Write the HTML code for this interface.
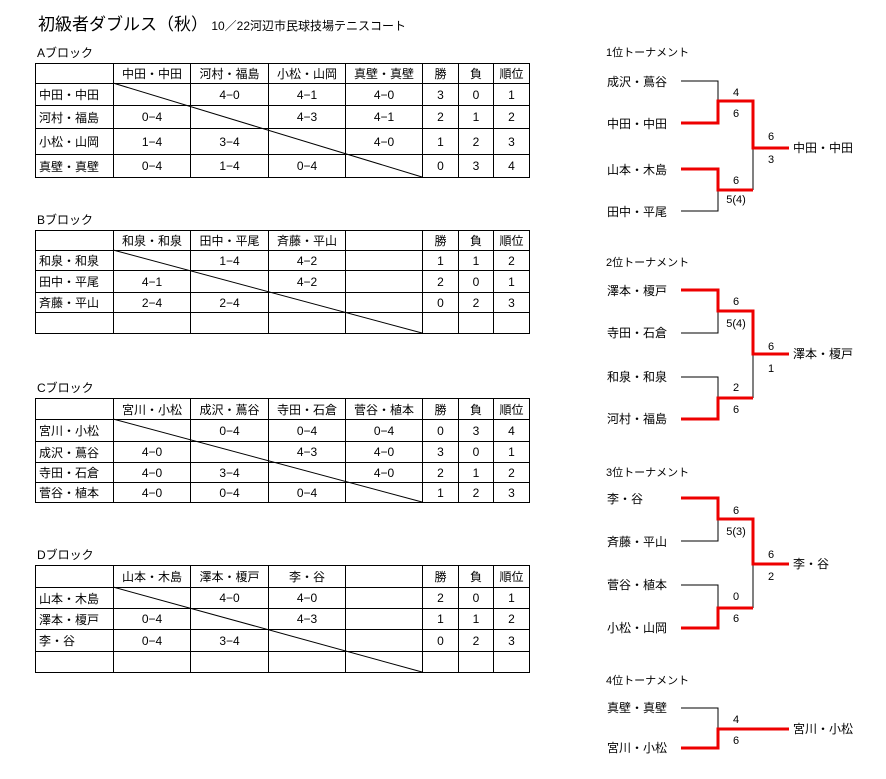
<!DOCTYPE html>
<html><head><meta charset="utf-8"><style>
body{margin:0;background:#fff;width:886px;height:779px;position:relative;overflow:hidden;font-family:"Liberation Sans","Noto Sans CJK JP",sans-serif;font-size:12px;color:#000}
.t{position:absolute;left:35px;border-collapse:collapse;table-layout:fixed}
.t td{border:1px solid #000;padding:0;text-align:center;white-space:nowrap;overflow:hidden}
.t td.l{text-align:left;padding-left:3px}
.lbl{position:absolute;font-size:12px}
svg{position:absolute;left:0;top:0}
</style></head><body>
<div class="lbl" style="left:38px;top:10px;font-size:17px">初級者ダブルス（秋）<span style="font-size:12px">&nbsp;10／22河辺市民球技場テニスコート</span></div>

<div class="lbl" style="left:37px;top:44px">Aブロック</div>
<table class="t" style="top:63px">
<colgroup><col style="width:78px"><col style="width:77px"><col style="width:78px"><col style="width:77px"><col style="width:77px"><col style="width:36px"><col style="width:35px"><col style="width:36px"></colgroup>
<tr style="height:20px"><td></td><td>中田・中田</td><td>河村・福島</td><td>小松・山岡</td><td>真壁・真壁</td><td>勝</td><td>負</td><td>順位</td></tr>
<tr style="height:22px"><td class="l">中田・中田</td><td></td><td>4−0</td><td>4−1</td><td>4−0</td><td>3</td><td>0</td><td>1</td></tr>
<tr style="height:23px"><td class="l">河村・福島</td><td>0−4</td><td></td><td>4−3</td><td>4−1</td><td>2</td><td>1</td><td>2</td></tr>
<tr style="height:26px"><td class="l">小松・山岡</td><td>1−4</td><td>3−4</td><td></td><td>4−0</td><td>1</td><td>2</td><td>3</td></tr>
<tr style="height:23px"><td class="l">真壁・真壁</td><td>0−4</td><td>1−4</td><td>0−4</td><td></td><td>0</td><td>3</td><td>4</td></tr>
</table>

<div class="lbl" style="left:37px;top:211px">Bブロック</div>
<table class="t" style="top:230px">
<colgroup><col style="width:78px"><col style="width:77px"><col style="width:78px"><col style="width:77px"><col style="width:77px"><col style="width:36px"><col style="width:35px"><col style="width:36px"></colgroup>
<tr style="height:20px"><td></td><td>和泉・和泉</td><td>田中・平尾</td><td>斉藤・平山</td><td></td><td>勝</td><td>負</td><td>順位</td></tr>
<tr style="height:20px"><td class="l">和泉・和泉</td><td></td><td>1−4</td><td>4−2</td><td></td><td>1</td><td>1</td><td>2</td></tr>
<tr style="height:22px"><td class="l">田中・平尾</td><td>4−1</td><td></td><td>4−2</td><td></td><td>2</td><td>0</td><td>1</td></tr>
<tr style="height:20px"><td class="l">斉藤・平山</td><td>2−4</td><td>2−4</td><td></td><td></td><td>0</td><td>2</td><td>3</td></tr>
<tr style="height:21px"><td></td><td></td><td></td><td></td><td></td><td></td><td></td><td></td></tr>
</table>

<div class="lbl" style="left:37px;top:379px">Cブロック</div>
<table class="t" style="top:398px">
<colgroup><col style="width:78px"><col style="width:77px"><col style="width:78px"><col style="width:77px"><col style="width:77px"><col style="width:36px"><col style="width:35px"><col style="width:36px"></colgroup>
<tr style="height:21px"><td></td><td>宮川・小松</td><td>成沢・蔦谷</td><td>寺田・石倉</td><td>菅谷・植本</td><td>勝</td><td>負</td><td>順位</td></tr>
<tr style="height:22px"><td class="l">宮川・小松</td><td></td><td>0−4</td><td>0−4</td><td>0−4</td><td>0</td><td>3</td><td>4</td></tr>
<tr style="height:21px"><td class="l">成沢・蔦谷</td><td>4−0</td><td></td><td>4−3</td><td>4−0</td><td>3</td><td>0</td><td>1</td></tr>
<tr style="height:20px"><td class="l">寺田・石倉</td><td>4−0</td><td>3−4</td><td></td><td>4−0</td><td>2</td><td>1</td><td>2</td></tr>
<tr style="height:20px"><td class="l">菅谷・植本</td><td>4−0</td><td>0−4</td><td>0−4</td><td></td><td>1</td><td>2</td><td>3</td></tr>
</table>

<div class="lbl" style="left:37px;top:546px">Dブロック</div>
<table class="t" style="top:565px">
<colgroup><col style="width:78px"><col style="width:77px"><col style="width:78px"><col style="width:77px"><col style="width:77px"><col style="width:36px"><col style="width:35px"><col style="width:36px"></colgroup>
<tr style="height:22px"><td></td><td>山本・木島</td><td>澤本・榎戸</td><td>李・谷</td><td></td><td>勝</td><td>負</td><td>順位</td></tr>
<tr style="height:21px"><td class="l">山本・木島</td><td></td><td>4−0</td><td>4−0</td><td></td><td>2</td><td>0</td><td>1</td></tr>
<tr style="height:21px"><td class="l">澤本・榎戸</td><td>0−4</td><td></td><td>4−3</td><td></td><td>1</td><td>1</td><td>2</td></tr>
<tr style="height:22px"><td class="l">李・谷</td><td>0−4</td><td>3−4</td><td></td><td></td><td>0</td><td>2</td><td>3</td></tr>
<tr style="height:21px"><td></td><td></td><td></td><td></td><td></td><td></td><td></td><td></td></tr>
</table>

<svg width="886" height="779" font-family="Liberation Sans, Noto Sans CJK JP, sans-serif" font-size="12">
<g stroke="#000" stroke-width="1">
<line x1="113" y1="83" x2="422" y2="177"/>
<line x1="113" y1="250" x2="422" y2="333"/>
<line x1="113" y1="419" x2="422" y2="502"/>
<line x1="113" y1="587" x2="422" y2="672"/>
</g>
<g fill="none" stroke-width="1" stroke="#000">
<path d="M681 81H718V101M718 190V211H681M753 148V190"/>
<path d="M681 377H718V398M718 311V333H681M753 354V398"/>
<path d="M681 541H718V519M753 564V608M718 608V585H681"/>
<path d="M681 708H718V729"/>
</g>
<g fill="none" stroke="#e00" stroke-width="3">
<path d="M681 123H718V101H753V148H789"/>
<path d="M681 169H718V190H753"/>
<path d="M681 290H718V311H753V354H789"/>
<path d="M681 419H718V398H753"/>
<path d="M681 498H718V519H753V564H789"/>
<path d="M681 628H718V608H753"/>
<path d="M681 748H718V729H789"/>
</g>
<g font-size="11">
<text x="606" y="56">1位トーナメント</text>
<text x="606" y="266">2位トーナメント</text>
<text x="606" y="476">3位トーナメント</text>
<text x="606" y="684">4位トーナメント</text>
</g>
<g>
<text x="607" y="86">成沢・蔦谷</text><text x="607" y="128">中田・中田</text><text x="607" y="174">山本・木島</text><text x="607" y="216">田中・平尾</text><text x="793" y="152">中田・中田</text>
<text x="607" y="295">澤本・榎戸</text><text x="607" y="337">寺田・石倉</text><text x="607" y="381">和泉・和泉</text><text x="607" y="423">河村・福島</text><text x="793" y="358">澤本・榎戸</text>
<text x="607" y="503">李・谷</text><text x="607" y="546">斉藤・平山</text><text x="607" y="589">菅谷・植本</text><text x="607" y="632">小松・山岡</text><text x="793" y="568">李・谷</text>
<text x="607" y="712">真壁・真壁</text><text x="607" y="752">宮川・小松</text><text x="793" y="733">宮川・小松</text>
</g>
<g font-size="11" text-anchor="middle">
<text x="736" y="96">4</text><text x="736" y="117">6</text><text x="771" y="140">6</text><text x="771" y="163">3</text><text x="736" y="184">6</text><text x="736" y="203">5(4)</text>
<text x="736" y="305">6</text><text x="736" y="327">5(4)</text><text x="771" y="350">6</text><text x="771" y="372">1</text><text x="736" y="391">2</text><text x="736" y="413">6</text>
<text x="736" y="514">6</text><text x="736" y="535">5(3)</text><text x="771" y="558">6</text><text x="771" y="580">2</text><text x="736" y="600">0</text><text x="736" y="622">6</text>
<text x="736" y="723">4</text><text x="736" y="744">6</text>
</g>
</svg>
</body></html>
